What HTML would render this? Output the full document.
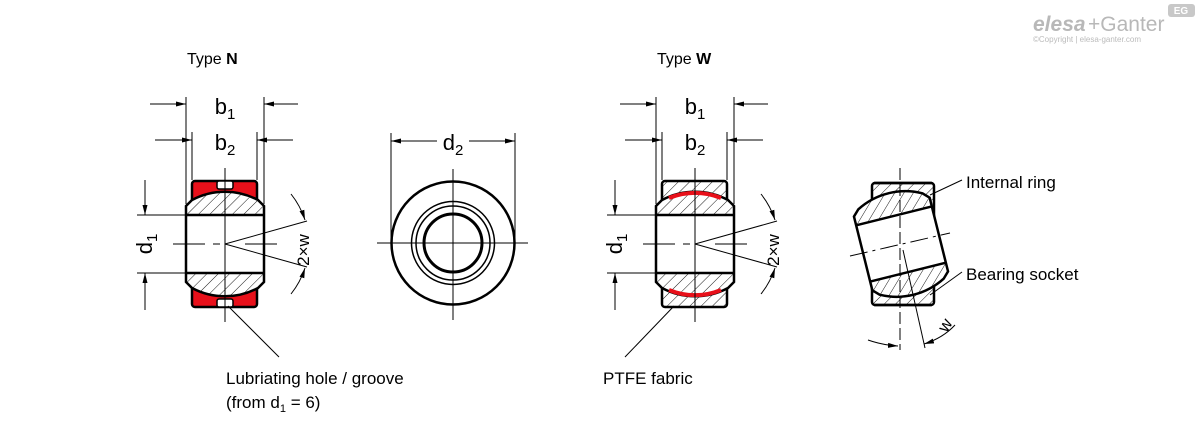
<!DOCTYPE html>
<html><head><meta charset="utf-8"><style>
html,body{margin:0;padding:0;background:#fff;}
svg{display:block;font-family:"Liberation Sans",Arial,sans-serif;}
</style></head><body>
<svg width="1200" height="443" viewBox="0 0 1200 443" xmlns="http://www.w3.org/2000/svg">
<defs>
<pattern id="h" patternUnits="userSpaceOnUse" width="8" height="8" patternTransform="rotate(45)">
<line x1="0" y1="0" x2="0" y2="8" stroke="#000" stroke-width="0.9"/>
</pattern>
<marker id="a" viewBox="0 0 10 10" refX="10" refY="5" markerWidth="10" markerHeight="10" orient="auto-start-reverse">
<path d="M0,2.5 L10,5 L0,7.5 Z" fill="#000"/>
</marker>
<g id="ring">
<path d="M-39,-38 L-33,-44 A70,70 0 0 1 33,-44 L39,-38 L39,38 L33,44 A70,70 0 0 1 -33,44 L-39,38 Z" fill="#fff"/>
<path d="M-33,-44 A70,70 0 0 1 33,-44 L39,-38 L39,-29 L-39,-29 L-39,-38 Z" fill="url(#h)"/>
<path d="M-33,44 A70,70 0 0 0 33,44 L39,38 L39,29 L-39,29 L-39,38 Z" fill="url(#h)"/>
<path d="M-39,-38 L-33,-44 A70,70 0 0 1 33,-44 L39,-38 L39,38 L33,44 A70,70 0 0 1 -33,44 L-39,38 Z" fill="none" stroke="#000" stroke-width="2.5"/>
<line x1="-39" y1="-29" x2="39" y2="-29" stroke="#000" stroke-width="2.5"/>
<line x1="-39" y1="29" x2="39" y2="29" stroke="#000" stroke-width="2.5"/>
</g>
<g id="dims" stroke="#000" stroke-width="1" fill="none">
<line x1="-39" y1="-147" x2="-39" y2="-40"/>
<line x1="39" y1="-147" x2="39" y2="-40"/>
<line x1="-33" y1="-112" x2="-33" y2="-64"/>
<line x1="32" y1="-112" x2="32" y2="-64"/>
<line x1="-75" y1="-140" x2="-39" y2="-140" marker-end="url(#a)"/>
<line x1="73" y1="-140" x2="39" y2="-140" marker-end="url(#a)"/>
<line x1="-70" y1="-104" x2="-33" y2="-104" marker-end="url(#a)"/>
<line x1="68" y1="-104" x2="32" y2="-104" marker-end="url(#a)"/>
<line x1="-88" y1="-29" x2="-39" y2="-29"/>
<line x1="-88" y1="29" x2="-39" y2="29"/>
<line x1="-80" y1="-64" x2="-80" y2="-29" marker-end="url(#a)"/>
<line x1="-80" y1="66" x2="-80" y2="29" marker-end="url(#a)"/>
<line x1="0" y1="-76" x2="0" y2="78"/>
<line x1="-52" y1="0" x2="-20" y2="0"/>
<line x1="-12" y1="0" x2="-5" y2="0"/>
<line x1="20" y1="0" x2="52" y2="0"/>
<line x1="0" y1="0" x2="82" y2="-23"/>
<line x1="0" y1="0" x2="82" y2="23"/>
<path d="M66,-50 A83,83 0 0 1 80,-24" marker-end="url(#a)"/>
<path d="M66,50 A83,83 0 0 0 80,24" marker-end="url(#a)"/>
</g>
</defs>

<!-- Type N -->
<text x="187" y="64" font-size="16">Type <tspan font-weight="bold">N</tspan></text>
<g transform="translate(225,244)">
<rect x="-33" y="-63" width="65" height="126" rx="3" fill="#e8101a" stroke="#000" stroke-width="2.5"/>
<use href="#ring"/>
<rect x="-8" y="-63" width="16" height="8" rx="2" fill="#fff" stroke="#000" stroke-width="1.5"/>
<rect x="-8" y="55" width="16" height="8" rx="2" fill="#fff" stroke="#000" stroke-width="1.5"/>
<use href="#dims"/>
<text x="0" y="-130" font-size="22" text-anchor="middle">b<tspan font-size="15" dy="5">1</tspan></text>
<text x="0" y="-94" font-size="22" text-anchor="middle">b<tspan font-size="15" dy="5">2</tspan></text>
<text transform="translate(-73,0) rotate(-90)" font-size="22" text-anchor="middle">d<tspan font-size="15" dy="5">1</tspan></text>
<text transform="translate(84,6) rotate(-90)" font-size="17" text-anchor="middle">2×w</text>
</g>
<line x1="228" y1="306" x2="279" y2="357" stroke="#000" stroke-width="1"/>
<text x="226" y="384" font-size="17">Lubriating hole / groove</text>
<text x="226" y="408" font-size="17">(from d<tspan font-size="11" dy="4">1</tspan><tspan dy="-4"> = 6)</tspan></text>

<!-- front view -->
<g stroke="#000" fill="none">
<line x1="391" y1="133" x2="391" y2="240" stroke-width="1"/>
<line x1="515" y1="133" x2="515" y2="240" stroke-width="1"/>
<line x1="437" y1="141" x2="391" y2="141" stroke-width="1" marker-end="url(#a)"/>
<line x1="469" y1="141" x2="515" y2="141" stroke-width="1" marker-end="url(#a)"/>
<circle cx="453" cy="243" r="61.5" stroke-width="2.5"/>
<circle cx="453" cy="243" r="41.5" stroke-width="1.5"/>
<circle cx="453" cy="243" r="37" stroke-width="1.5"/>
<circle cx="453" cy="243" r="29" stroke-width="3"/>
<line x1="377" y1="243" x2="528" y2="243" stroke-width="1"/>
<line x1="453" y1="169" x2="453" y2="320" stroke-width="1"/>
</g>
<text x="453" y="150" font-size="22" text-anchor="middle">d<tspan font-size="15" dy="5">2</tspan></text>

<!-- Type W -->
<text x="657" y="64" font-size="16">Type <tspan font-weight="bold">W</tspan></text>
<g transform="translate(695,244)">
<rect x="-33" y="-63" width="65" height="126" rx="3" fill="url(#h)" stroke="#000" stroke-width="2.5"/>
<use href="#ring"/>
<path d="M-26,-46 A68,68 0 0 1 26,-46" fill="none" stroke="#e8101a" stroke-width="4"/>
<path d="M-26,46 A68,68 0 0 0 26,46" fill="none" stroke="#e8101a" stroke-width="4"/>
<use href="#dims"/>
<text x="0" y="-130" font-size="22" text-anchor="middle">b<tspan font-size="15" dy="5">1</tspan></text>
<text x="0" y="-94" font-size="22" text-anchor="middle">b<tspan font-size="15" dy="5">2</tspan></text>
<text transform="translate(-73,0) rotate(-90)" font-size="22" text-anchor="middle">d<tspan font-size="15" dy="5">1</tspan></text>
<text transform="translate(84,6) rotate(-90)" font-size="17" text-anchor="middle">2×w</text>
</g>
<line x1="674" y1="306" x2="625" y2="357" stroke="#000" stroke-width="1"/>
<text x="603" y="384" font-size="17">PTFE fabric</text>

<!-- tilted view -->
<g>
<rect x="872" y="183" width="62" height="122" rx="3" fill="url(#h)" stroke="#000" stroke-width="2.5"/>
<g transform="translate(901,244) rotate(-14)"><use href="#ring"/></g>
<line x1="874" y1="183" x2="932" y2="183" stroke="#000" stroke-width="2.5"/>
<line x1="874" y1="305" x2="932" y2="305" stroke="#000" stroke-width="2.5"/>
<g stroke="#000" stroke-width="1" fill="none">
<line x1="900" y1="168" x2="900" y2="350" stroke-dasharray="12,4"/>
<line x1="850" y1="256" x2="950" y2="233" stroke-dasharray="18,5,3,5"/>
<line x1="903" y1="250" x2="925" y2="348"/>
<line x1="930" y1="195" x2="962" y2="180"/>
<line x1="930" y1="295" x2="962" y2="272"/>
<path d="M868,340 Q882,345 898,346" marker-end="url(#a)"/>
<path d="M955,325 Q943,338 924,344" marker-end="url(#a)"/>
</g>
<text transform="translate(950,328) rotate(-60)" font-size="17" text-anchor="middle">w</text>
</g>
<text x="966" y="188" font-size="17">Internal ring</text>
<text x="966" y="280" font-size="17">Bearing socket</text>

<!-- logo -->
<text x="1033" y="31" font-size="21" font-weight="bold" fill="#b8b8b8" font-style="italic">elesa</text>
<text x="1088" y="31" font-size="21" fill="#b8b8b8">+Ganter</text>
<rect x="1168" y="4" width="27" height="13" rx="3" fill="#c8c8c8"/>
<text x="1181" y="14" font-size="10" font-weight="bold" fill="#fff" text-anchor="middle">EG</text>
<text x="1033" y="42" font-size="8" fill="#bbb">©Copyright | elesa-ganter.com</text>
</svg>
</body></html>
